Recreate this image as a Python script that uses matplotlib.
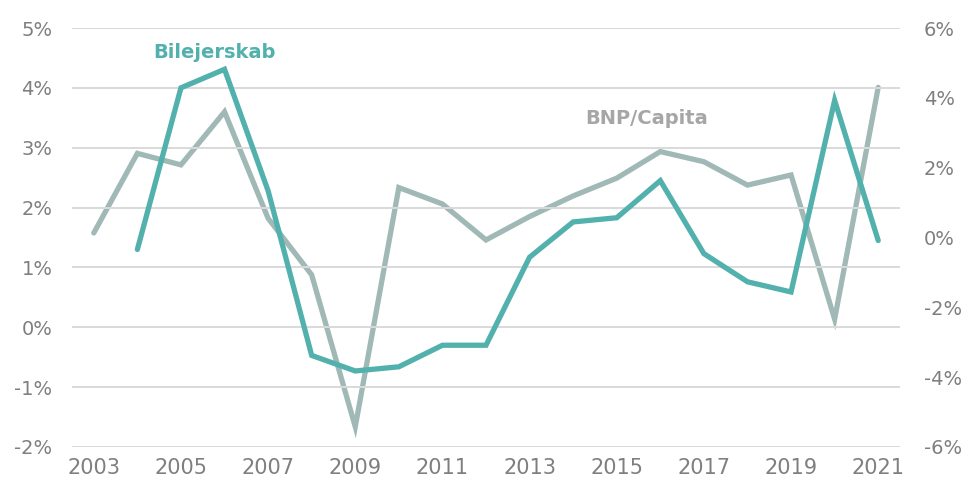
import numpy as np
import matplotlib.pyplot as plt

# Data
years = list(range(2003, 2022))
bil_years = list(range(2004, 2022))
bilejerskab = [1.3, 4.0, 4.31, 2.28, -0.47, -0.73, -0.66, -0.3, -0.3, 1.17,
               1.76, 1.83, 2.45, 1.23, 0.76, 0.59, 3.79, 1.45]
bnp_capita = [0.13, 2.41, 2.08, 3.6, 0.55, -1.07, -5.42, 1.43, 0.96, -0.07,
              0.6, 1.19, 1.7, 2.46, 2.17, 1.5, 1.79, -2.34, 4.3]

left_ticks = [-2, -1, 0, 1, 2, 3, 4, 5]
right_ticks = [-6, -4, -2, 0, 2, 4, 6]
x_labels = [2003, 2005, 2007, 2009, 2011, 2013, 2015, 2017, 2019, 2021]

teal = '#52b1ad'
grey = '#a0b9b6'
tick_col = '#7f7f7f'

fig = plt.figure(figsize=(9.65, 4.88), dpi=100)
ax = fig.add_axes([72 / 965, 1 - 447 / 488, (900 - 72) / 965, (447 - 28) / 488])
ax2 = ax.twinx()

ax2.plot(years, bnp_capita, color=grey, lw=3.8, solid_capstyle='round',
         solid_joinstyle='miter', zorder=2)
ax.plot(bil_years, bilejerskab, color=teal, lw=3.8, solid_capstyle='round',
        solid_joinstyle='miter', zorder=3)
ax.set_zorder(ax2.get_zorder() + 1)
ax.patch.set_visible(False)

ax.set_xlim(2002.5, 2021.5)
ax.set_ylim(-2, 5)
ax2.set_ylim(-6, 6)
ax.set_yticks(left_ticks)
ax.set_yticklabels([f'{t}%' for t in left_ticks])
ax2.set_yticks(right_ticks)
ax2.set_yticklabels([f'{t}%' for t in right_ticks])
ax.set_xticks(x_labels)
ax.set_xticklabels([str(x) for x in x_labels])

for a in (ax, ax2):
    for s in a.spines.values():
        s.set_visible(False)
    a.tick_params(length=0, labelsize=14, colors=tick_col)
ax.tick_params(axis='y', pad=14)
ax2.tick_params(axis='y', pad=17)
ax.tick_params(axis='x', labelsize=15, pad=8)

ax.grid(axis='y', color='#d9d9d9', lw=1.4)
ax.set_axisbelow(True)

fig.text(214 / 965, 1 - 52 / 488, 'Bilejerskab', color=teal, fontsize=14,
         fontweight='bold', ha='center', va='center')
fig.text(647 / 965, 1 - 118 / 488, 'BNP/Capita', color='#a6a6a6', fontsize=14,
         fontweight='bold', ha='center', va='center')

fig.savefig('out.png', dpi=100)
